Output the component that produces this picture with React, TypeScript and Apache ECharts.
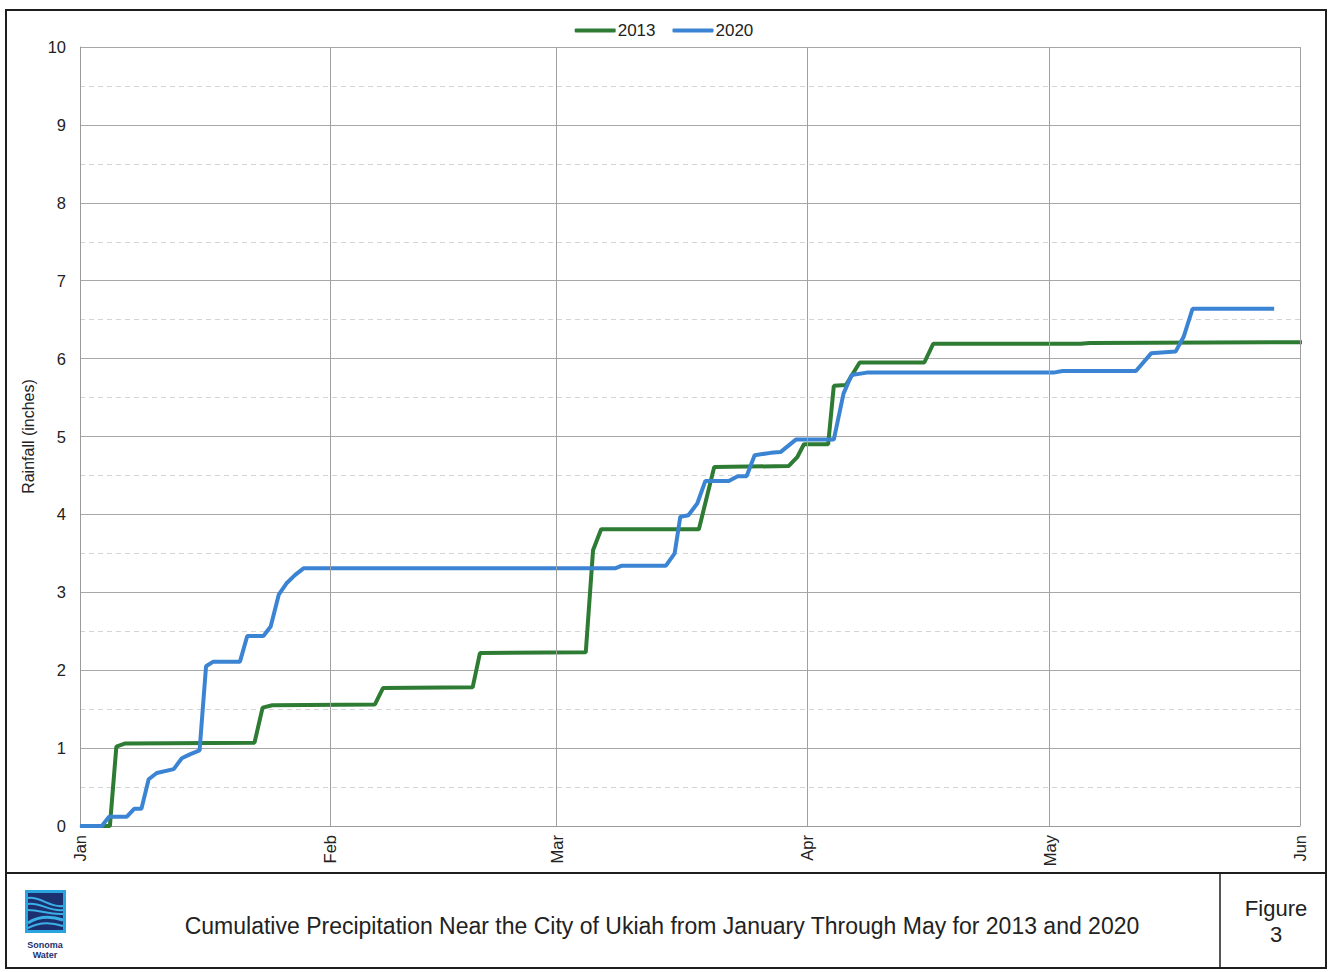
import React, { useEffect, useRef } from "react";
import * as echarts from "echarts";

// Day offsets from Jan 1 and cumulative rainfall (inches)
const days2013 = [0, 3.7, 4.5, 5.6, 21.6, 22.6, 23.8, 36.5, 37.5, 48.6, 49.5, 62.6, 63.5, 64.5, 76.6, 78.5, 87.7, 88.8, 89.6, 92.6, 93.3, 94.8, 96.5, 104.5, 105.6, 123.8, 125, 151.6];
const rain2013 = [0, 0, 1.02, 1.06, 1.07, 1.52, 1.55, 1.56, 1.77, 1.78, 2.22, 2.23, 3.54, 3.81, 3.81, 4.61, 4.62, 4.74, 4.9, 4.9, 5.65, 5.66, 5.95, 5.95, 6.19, 6.19, 6.2, 6.21];

const days2020 = [0, 2.7, 3.6, 5.8, 6.7, 7.6, 8.5, 9.5, 11.6, 12.6, 13.6, 14.8, 15.6, 16.5, 19.8, 20.7, 22.7, 23.6, 24.6, 25.6, 26.6, 27.7, 66.3, 67, 72.5, 73.6, 74.3, 75.3, 76.4, 77.4, 80.3, 81.4, 82.5, 83.5, 85.5, 86.7, 88.6, 93.3, 94.5, 95.5, 97.4, 120.5, 121.6, 130.7, 132.6, 135.6, 136.6, 137.7, 147.8];
const rain2020 = [0, 0, 0.12, 0.12, 0.22, 0.22, 0.6, 0.68, 0.73, 0.87, 0.92, 0.97, 2.05, 2.11, 2.11, 2.44, 2.44, 2.56, 2.97, 3.12, 3.22, 3.31, 3.31, 3.34, 3.34, 3.5, 3.97, 3.99, 4.14, 4.43, 4.43, 4.49, 4.49, 4.76, 4.79, 4.8, 4.96, 4.96, 5.55, 5.79, 5.82, 5.82, 5.84, 5.84, 6.07, 6.09, 6.28, 6.64, 6.64];

const monthDays = [0, 31, 59, 90, 120, 151];
const monthLabels = ["Jan", "Feb", "Mar", "Apr", "May", "Jun"];

const FONT = "'Liberation Sans', Arial, sans-serif";

export default function App() {
  const ref = useRef<HTMLDivElement>(null);

  useEffect(() => {
    if (!ref.current) return;
    const chart = echarts.init(ref.current, undefined, { renderer: "svg" });
    const pairs = (d: number[], v: number[]) => d.map((x, i) => [x, v[i]]);
    const centered = (text: string, x: number, y: number, size: number, extra: any = {}) => ({
      type: "text",
      x,
      y,
      style: {
        text,
        fontSize: size,
        fontFamily: FONT,
        fill: "#222",
        align: "center",
        verticalAlign: "middle",
        textAlign: "center",
        textVerticalAlign: "middle",
        ...extra,
      },
    });

    chart.setOption({
      animation: false,
      backgroundColor: "#ffffff",
      textStyle: { fontFamily: FONT },
      legend: {
        data: ["2013", "2020"],
        top: 17,
        left: "center",
        icon: "roundRect",
        itemWidth: 41,
        itemHeight: 4,
        itemGap: 17,
        textStyle: { fontSize: 17, color: "#222", fontFamily: FONT, padding: [0, 0, 0, -3] },
      },
      grid: { left: 80, right: 28, top: 47, bottom: 146, containLabel: false },
      xAxis: {
        type: "value",
        min: 0,
        max: 151,
        axisLine: { show: true, lineStyle: { color: "#9a9a9a", width: 1 } },
        axisTick: { show: false },
        splitLine: { show: false },
        axisLabel: {
          customValues: monthDays,
          formatter: (v: number) => monthLabels[monthDays.indexOf(Math.round(v))] ?? "",
          rotate: 90,
          margin: 9,
          fontSize: 16.5,
          color: "#222",
          fontFamily: FONT,
        },
      },
      yAxis: {
        type: "value",
        min: 0,
        max: 10,
        interval: 1,
        name: "Rainfall (inches)",
        nameLocation: "middle",
        nameGap: 42,
        nameTextStyle: { fontSize: 16, color: "#222", fontFamily: FONT },
        axisLine: { show: true, lineStyle: { color: "#9a9a9a", width: 1 } },
        axisTick: { show: false },
        axisLabel: { margin: 14, fontSize: 16.5, color: "#222", fontFamily: FONT },
        splitLine: { show: true, lineStyle: { color: "#a8a8a8", width: 1 } },
        minorTick: { show: false, splitNumber: 2 },
        minorSplitLine: { show: true, lineStyle: { color: "#d4d4d4", width: 1, type: [5, 4] } },
      },
      series: [
        {
          name: "monthlines",
          type: "line",
          data: [],
          z: 1,
          silent: true,
          markLine: {
            silent: true,
            symbol: "none",
            label: { show: false },
            lineStyle: { color: "#a0a0a0", width: 1, type: "solid" },
            data: monthDays.slice(1).map((d) => ({ xAxis: d })),
          },
        },
        {
          name: "2013",
          type: "line",
          data: pairs(days2013, rain2013),
          showSymbol: false,
          symbol: "none",
          z: 3,
          color: "#2e7b34",
          lineStyle: { color: "#2e7b34", width: 4 },
        },
        {
          name: "2020",
          type: "line",
          data: pairs(days2020, rain2020),
          showSymbol: false,
          symbol: "none",
          z: 4,
          color: "#3b84d4",
          lineStyle: { color: "#3b84d4", width: 4 },
        },
      ],
      graphic: [
        {
          type: "rect",
          shape: { x: 6, y: 10, width: 1320, height: 958 },
          style: { fill: "none", stroke: "#1e1e1e", lineWidth: 2 },
          silent: true,
        },
        {
          type: "line",
          shape: { x1: 6, y1: 873, x2: 1326, y2: 873 },
          style: { stroke: "#1e1e1e", lineWidth: 2 },
        },
        {
          type: "line",
          shape: { x1: 1220, y1: 873, x2: 1220, y2: 968 },
          style: { stroke: "#1e1e1e", lineWidth: 1.5 },
        },
        centered(
          "Cumulative Precipitation Near the City of Ukiah from January Through May for 2013 and 2020",
          662,
          926,
          23
        ),
        centered("Figure", 1276, 908, 22),
        centered("3", 1276, 934, 22),
        // logo
        {
          type: "group",
          x: 25,
          y: 890,
          children: [
            { type: "rect", shape: { x: 0, y: 0, width: 41, height: 43 }, style: { fill: "#2aa4de" } },
            { type: "rect", shape: { x: 3, y: 3, width: 35, height: 37 }, style: { fill: "#1c2f6e" } },
            {
              type: "bezierCurve",
              shape: { x1: 3, y1: 8, cpx1: 15, cpy1: 6, cpx2: 25, cpy2: 18, x2: 38, y2: 16 },
              style: { stroke: "#3ab0e6", lineWidth: 2, fill: "none" },
            },
            {
              type: "bezierCurve",
              shape: { x1: 3, y1: 14, cpx1: 15, cpy1: 12, cpx2: 25, cpy2: 22, x2: 38, y2: 20 },
              style: { stroke: "#3ab0e6", lineWidth: 2, fill: "none" },
            },
            {
              type: "bezierCurve",
              shape: { x1: 3, y1: 20, cpx1: 16, cpy1: 20, cpx2: 24, cpy2: 25, x2: 38, y2: 24 },
              style: { stroke: "#3ab0e6", lineWidth: 2, fill: "none" },
            },
            {
              type: "bezierCurve",
              shape: { x1: 3, y1: 33, cpx1: 14, cpy1: 26, cpx2: 26, cpy2: 26, x2: 38, y2: 30 },
              style: { stroke: "#3ab0e6", lineWidth: 3, fill: "none" },
            },
            {
              type: "bezierCurve",
              shape: { x1: 3, y1: 38, cpx1: 14, cpy1: 32, cpx2: 26, cpy2: 32, x2: 38, y2: 36 },
              style: { stroke: "#3ab0e6", lineWidth: 2, fill: "none" },
            },
          ],
        },
        centered("Sonoma", 45, 945, 9, { fontWeight: "bold", fill: "#1c2f6e" }),
        centered("Water", 45, 955, 9, { fontWeight: "bold", fill: "#1c2f6e" }),
      ],
    });

    return () => chart.dispose();
  }, []);

  return (
    <div
      ref={ref}
      style={{ position: "fixed", left: 0, top: 0, width: 1328, height: 972, background: "#fff" }}
    />
  );
}
